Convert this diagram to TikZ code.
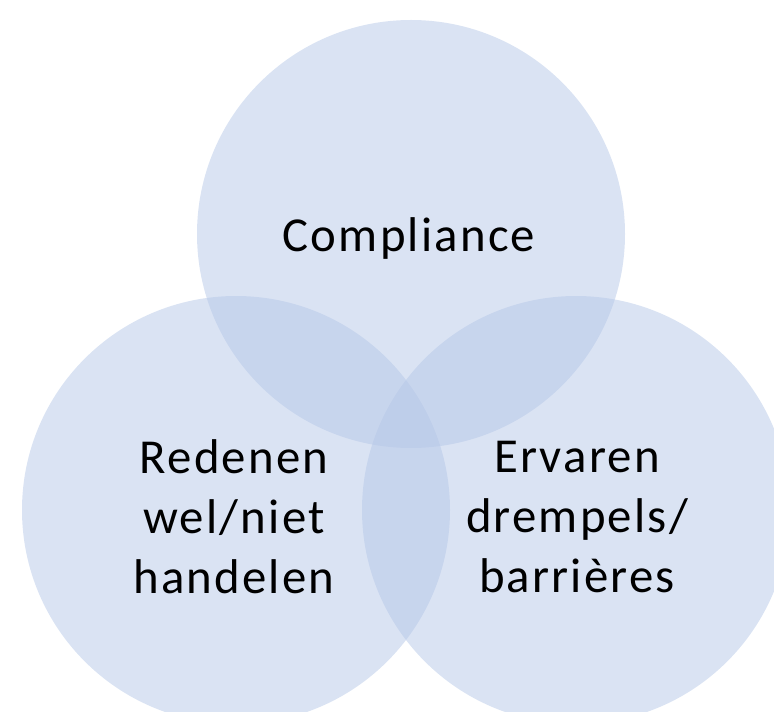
\documentclass[tikz,border=0pt]{standalone}
\usepackage{fontspec}
\setmainfont{Carlito}
\newfontfamily\vennfont[LetterSpace=4.5]{Carlito}
\definecolor{vennblue}{RGB}{181,199,231}
\begin{document}
\begin{tikzpicture}[x=0.75pt,y=-0.75pt,
  venn/.style={circle, minimum size=321pt, inner sep=0pt, fill=vennblue, fill opacity=0.5, draw=none},
  lbl/.style={align=center, text=black, font=\vennfont\fontsize{36.6pt}{45pt}\selectfont}]
\useasboundingbox (0,0) rectangle (774,712);
\node[venn] (top) at (411,234) {};
\node[venn] (left) at (236,510) {};
\node[venn] (right) at (576,510) {};
\node[lbl] (t1) at (409,238) {Compliance};
\node[lbl] (t2) at (234,517) {Redenen\\wel/niet\\handelen};
\node[lbl] (t3) at (577,517) {Ervaren\\drempels/\\barrières};
\end{tikzpicture}
\end{document}
